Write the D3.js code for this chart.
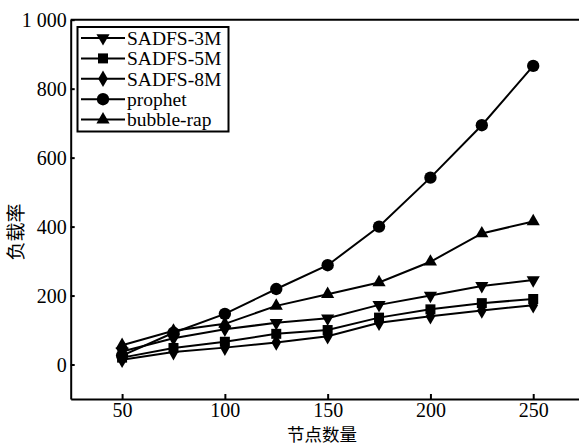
<!DOCTYPE html>
<html>
<head>
<meta charset="utf-8">
<script src="https://cdn.jsdelivr.net/npm/d3@7"></script>
<style>
  body { margin: 0; background: #fff; }
</style>
</head>
<body>
<svg id="chart" width="579" height="445"></svg>
<script>
// node counts on the x axis
const nodes = [50, 75, 100, 125, 150, 175, 200, 225, 250];

// load rate per series
const sadfs3m = [38, 76, 102, 121, 134, 173, 200, 228, 245];
const sadfs5m = [20, 48, 66, 89, 100, 136, 160, 178, 190];
const sadfs8m = [14, 36, 49, 64, 82, 121, 140, 157, 172];
const prophet = [26, 92, 147, 219, 288, 400, 542, 694, 866];
const bubbleRap = [56, 98, 118, 170, 204, 238, 298, 380, 415];

const seriesNames = ["SADFS-3M", "SADFS-5M", "SADFS-8M", "prophet", "bubble-rap"];
const xTicks = [50, 100, 150, 200, 250];
const yTicks = [0, 200, 400, 600, 800, 1000];

const series = [
  { name: seriesNames[0], values: sadfs3m, shape: "invTri" },
  { name: seriesNames[1], values: sadfs5m, shape: "square" },
  { name: seriesNames[2], values: sadfs8m, shape: "diamond" },
  { name: seriesNames[3], values: prophet, shape: "circle" },
  { name: seriesNames[4], values: bubbleRap, shape: "tri" },
];

const svg = d3.select("#chart");
const serif = "'Liberation Serif'";
const cjk = "'Noto Sans CJK SC'";

const x = d3.scaleLinear().domain([25, 275]).range([70.7, 584.6]);
const y = d3.scaleLinear().domain([-100, 1000]).range([399, 19.7]);

// symbol generators
const sym = {
  circle: d3.symbol().type(d3.symbolCircle).size(120)(),
  square: d3.symbol().type(d3.symbolSquare).size(100)(),
  diamond: d3.symbol().type(d3.symbolDiamond).size(80)(),
  tri: d3.symbol().type(d3.symbolTriangle).size(75)(),
  invTri: d3.symbol().type(d3.symbolTriangle).size(75)(),
};
function markerTransform(shape, px, py) {
  return shape === "invTri"
    ? `translate(${px},${py}) rotate(180)`
    : `translate(${px},${py})`;
}

// series lines + markers
const line = d3.line().x((d, i) => x(nodes[i])).y(d => y(d));

series.forEach(s => {
  svg.append("path")
    .attr("d", line(s.values))
    .attr("fill", "none")
    .attr("stroke", "#000")
    .attr("stroke-width", 2);

  svg.append("g")
    .selectAll("path")
    .data(s.values)
    .join("path")
    .attr("d", sym[s.shape])
    .attr("transform", (d, i) => markerTransform(s.shape, x(nodes[i]), y(d)))
    .attr("fill", "#000");
});

// axes
const xAxis = d3.axisBottom(x).tickValues(xTicks).tickSizeInner(-5).tickSizeOuter(0).tickPadding(4);
const yAxis = d3.axisLeft(y).tickValues(yTicks).tickSizeInner(-4).tickSizeOuter(0).tickPadding(4)
  .tickFormat(d => d === 1000 ? "1 000" : d);

const gx = svg.append("g").attr("transform", `translate(0,${y(-100)})`).call(xAxis);
const gy = svg.append("g").attr("transform", `translate(${x(25)},0)`).call(yAxis);

[gx, gy].forEach(g => {
  g.select(".domain").attr("stroke", "#000").attr("stroke-width", 2);
  g.selectAll(".tick line").attr("stroke", "#000").attr("stroke-width", 2);
  g.selectAll(".tick text")
    .style("font-family", serif)
    .style("font-size", "20px")
    .attr("fill", "#000");
});
gy.selectAll(".tick text").attr("dy", "0.35em");

// top frame line
svg.append("line")
  .attr("x1", x(25)).attr("x2", x(275))
  .attr("y1", y(1000)).attr("y2", y(1000))
  .attr("stroke", "#000").attr("stroke-width", 2);

// axis titles
svg.append("text")
  .attr("x", 322).attr("y", 440.5)
  .attr("text-anchor", "middle")
  .style("font-family", cjk)
  .style("font-size", "17.5px")
  .text("节点数量");

svg.append("text")
  .attr("transform", "translate(23,232) rotate(-90)")
  .attr("text-anchor", "middle")
  .style("font-family", cjk)
  .style("font-size", "19px")
  .text("负载率");

// legend
const legend = svg.append("g");
legend.append("rect")
  .attr("x", 77.5).attr("y", 27)
  .attr("width", 151).attr("height", 104.5)
  .attr("fill", "#fff")
  .attr("stroke", "#000").attr("stroke-width", 2);

series.forEach((s, i) => {
  const ly = 38 + i * 20.4;
  legend.append("line")
    .attr("x1", 81).attr("x2", 125)
    .attr("y1", ly).attr("y2", ly)
    .attr("stroke", "#000").attr("stroke-width", 2);
  legend.append("path")
    .attr("d", sym[s.shape])
    .attr("transform", markerTransform(s.shape, 103, ly))
    .attr("fill", "#000");
  legend.append("text")
    .attr("x", 127).attr("y", ly)
    .attr("dy", "0.35em")
    .style("font-family", serif)
    .style("font-size", "19.5px")
    .text(s.name);
});
</script>
</body>
</html>
